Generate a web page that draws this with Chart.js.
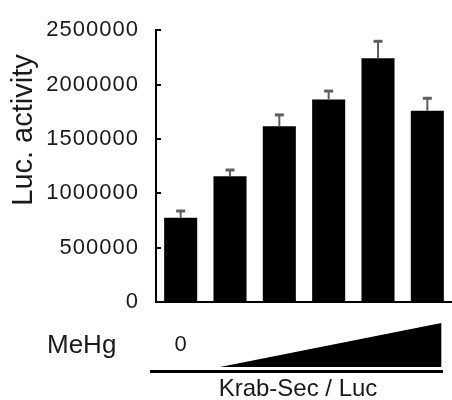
<!DOCTYPE html>
<html>
<head>
<meta charset="utf-8">
<script src="https://cdn.jsdelivr.net/npm/chart.js@4"></script>
<style>
  html, body { margin: 0; padding: 0; background: #fff; }
  #wrap { width: 452px; height: 400px; }
</style>
</head>
<body>
<div id="wrap"><canvas id="chart"></canvas></div>
<script>
// Data
const groups = ['0', 'd1', 'd2', 'd3', 'd4', 'd5'];
const lucActivity = [776000, 1157000, 1616000, 1862000, 2242000, 1760000];
const lucError = [61000, 57000, 105000, 78000, 156000, 114000];
const yTicks = [0, 500000, 1000000, 1500000, 2000000, 2500000];

const FONT = "'Liberation Sans', Arial, sans-serif";
const TEXT = '#1a1a1a';

// wider spacing on the tick numbers, like the original
const tickSpacing = {
    id: 'tickSpacing',
    beforeDraw(chart) { chart.ctx.letterSpacing = '1px'; },
    afterDatasetsDraw(chart) { chart.ctx.letterSpacing = '0px'; }
};

// error bars (top only) drawn on each bar
const errorBars = {
    id: 'errorBars',
    afterDatasetsDraw(chart) {
        const ctx = chart.ctx;
        const y = chart.scales.y;
        const meta = chart.getDatasetMeta(0);
        ctx.save();
        ctx.strokeStyle = '#5f5f5f';
        meta.data.forEach((bar, i) => {
            const yTop = y.getPixelForValue(lucActivity[i] + lucError[i]);
            ctx.lineWidth = 2;
            ctx.beginPath();
            ctx.moveTo(bar.x, bar.y);
            ctx.lineTo(bar.x, yTop);
            ctx.stroke();
            ctx.lineWidth = 3;
            ctx.beginPath();
            ctx.moveTo(bar.x - 4.5, yTop);
            ctx.lineTo(bar.x + 4.5, yTop);
            ctx.stroke();
        });
        ctx.restore();
    }
};

// inward tick marks, axis title and the MeHg / construct labels under the plot
const decorations = {
    id: 'decorations',
    afterDraw(chart) {
        const ctx = chart.ctx;
        const area = chart.chartArea;
        const x = chart.scales.x;
        const y = chart.scales.y;
        ctx.save();
        ctx.letterSpacing = '0px';

        ctx.strokeStyle = '#000';
        ctx.lineWidth = 2;
        yTicks.forEach(v => {
            const py = Math.round(y.getPixelForValue(v));
            ctx.beginPath();
            ctx.moveTo(area.left, py);
            ctx.lineTo(area.left + 5, py);
            ctx.stroke();
        });

        // y title
        ctx.fillStyle = TEXT;
        ctx.font = `29px ${FONT}`;
        ctx.textAlign = 'center';
        ctx.textBaseline = 'alphabetic';
        ctx.translate(32, 130);
        ctx.rotate(-Math.PI / 2);
        ctx.fillText('Luc. activity', 0, 0);
        ctx.setTransform(1, 0, 0, 1, 0, 0);

        // MeHg row
        ctx.font = `26px ${FONT}`;
        ctx.textAlign = 'left';
        ctx.textBaseline = 'middle';
        ctx.fillText('MeHg', 47, 346);
        ctx.font = `22px ${FONT}`;
        ctx.textAlign = 'center';
        ctx.fillText('0', x.getPixelForValue(0), 345);

        // dose wedge
        const wl = x.getPixelForValue(1) - 10;
        const wr = x.getPixelForValue(5) + 14;
        ctx.fillStyle = '#000';
        ctx.beginPath();
        ctx.moveTo(wl, 367);
        ctx.lineTo(wr, 323);
        ctx.lineTo(wr, 367);
        ctx.closePath();
        ctx.fill();

        // construct line + label
        ctx.fillRect(150, 370, 293, 3);
        ctx.fillStyle = TEXT;
        ctx.font = `24px ${FONT}`;
        ctx.fillText('Krab-Sec / Luc', 298, 389);

        ctx.restore();
    }
};

new Chart(document.getElementById('chart'), {
    type: 'bar',
    data: {
        labels: groups,
        datasets: [{
            data: lucActivity,
            backgroundColor: '#000',
            borderWidth: 0,
            barPercentage: 0.67,
            categoryPercentage: 1.0
        }]
    },
    options: {
        responsive: true,
        maintainAspectRatio: false,
        animation: false,
        layout: { padding: { top: 24, right: 0, bottom: 98, left: 0 } },
        plugins: {
            legend: { display: false },
            tooltip: { enabled: false }
        },
        scales: {
            x: {
                grid: { display: false, drawTicks: false },
                border: { display: true, color: '#000', width: 2 },
                ticks: { display: false },
                afterFit(scale) { scale.height = 0; }
            },
            y: {
                min: 0,
                max: 2500000,
                grid: { display: false, drawTicks: false },
                border: { display: true, color: '#000', width: 2 },
                afterFit(scale) { scale.width = 156; },
                afterBuildTicks(scale) { scale.ticks = yTicks.map(v => ({ value: v })); },
                ticks: {
                    padding: 17,
                    color: TEXT,
                    font: { family: FONT, size: 22 },
                    callback: v => String(v)
                }
            }
        }
    },
    plugins: [tickSpacing, errorBars, decorations]
});
</script>
</body>
</html>
